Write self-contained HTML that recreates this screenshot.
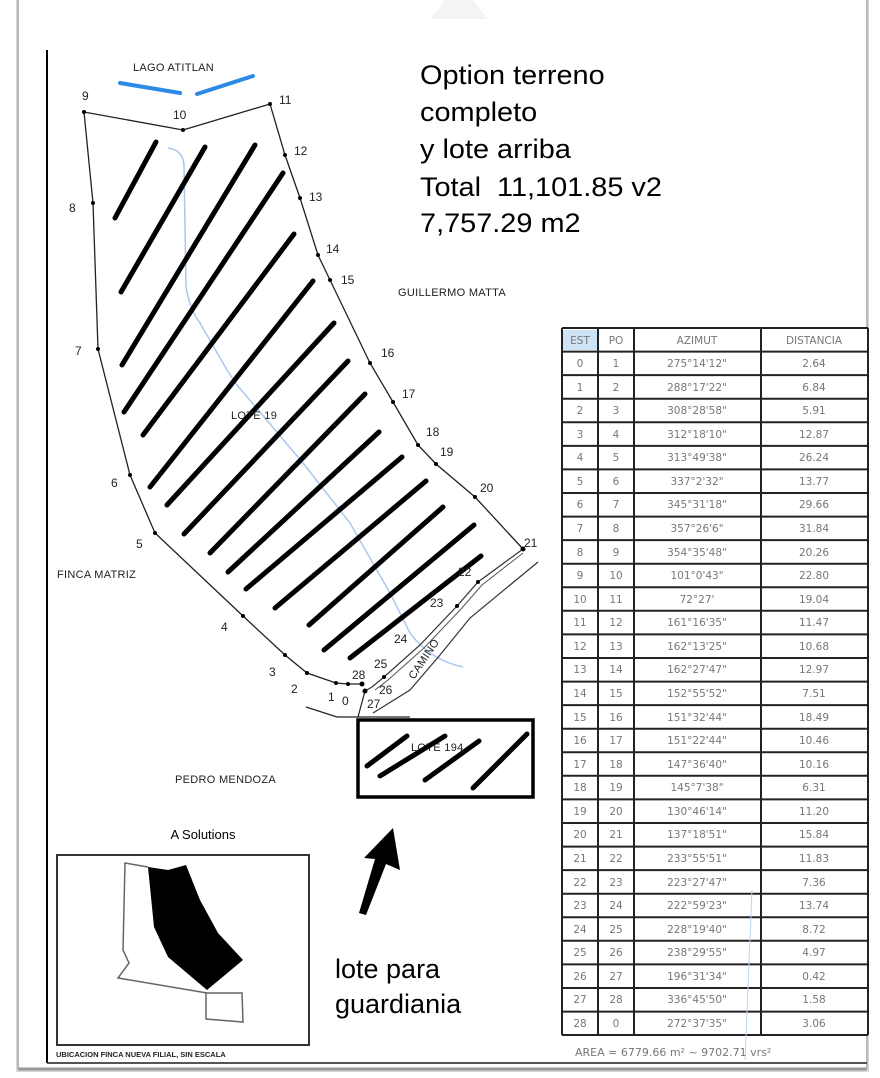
<!DOCTYPE html>
<html><head><meta charset="utf-8"><style>
html,body{margin:0;padding:0;background:#fff;}
svg{display:block;}
.p{font-family:"Liberation Sans",sans-serif;font-size:12px;fill:#222;}
.cad{font-family:"Liberation Sans",sans-serif;font-size:11px;fill:#222;letter-spacing:0.3px;}
.big{font-family:"Liberation Sans",sans-serif;font-size:27px;fill:#000;}
.t{font-family:"DejaVu Sans","Liberation Sans",sans-serif;font-size:10.5px;fill:#777;text-anchor:middle;}
.h{stroke:#000;stroke-width:5;stroke-linecap:round;}
</style></head><body>
<svg width="880" height="1078" viewBox="0 0 880 1078" xmlns="http://www.w3.org/2000/svg">
<rect x="0" y="0" width="880" height="1078" fill="#fff"/>
<rect x="16" y="-5" width="853" height="1077" fill="#d8d8d8"/>
<rect x="18" y="-5" width="849" height="1073" fill="#fff"/>
<line x1="18" y1="-5" x2="18" y2="1068" stroke="#bbb" stroke-width="2"/>
<line x1="867" y1="-5" x2="867" y2="1068" stroke="#bbb" stroke-width="2"/>
<line x1="18" y1="1069" x2="867" y2="1069" stroke="#999" stroke-width="3"/>
<polygon points="445,0 473,0 488,19 430,19" fill="#f4f4f4"/>
<line x1="47" y1="50" x2="47" y2="1063" stroke="#000" stroke-width="2"/>
<line x1="47" y1="1063" x2="867" y2="1063" stroke="#555" stroke-width="2"/>

<path d="M168,148 Q183,150 184,165 L186,287 Q190,310 200,323 L227,370 L237,385 L303,463 L350,523 L390,593 L410,633 Q430,660 463,667" fill="none" stroke="#a8c8f0" stroke-width="1.5"/>

<polyline points="93,203 84,112 183,130 270,104 285,155 300,198 318,255 330,280 370,363 393,402 418,445 436,464 475,497 523,549" fill="none" stroke="#222" stroke-width="1.3"/>
<polyline points="93,203 98,349 130,475 155,533 243,616 285,655 307,673 336,683 348,684 362,684" fill="none" stroke="#222" stroke-width="1.3"/>
<polyline points="523,549 478,582 457,606 420,645 384,677 372,687 365,691" fill="none" stroke="#333" stroke-width="1.2"/>
<polyline points="523,553 482,585 461,609 424,648 388,680 375,690" fill="none" stroke="#555" stroke-width="1"/>
<polyline points="538,562 470,618 440,655 410,690 373,713" fill="none" stroke="#333" stroke-width="1.2"/>
<polyline points="365,691 358,717" fill="none" stroke="#222" stroke-width="1.2"/>
<polyline points="306,707 337,717 410,717" fill="none" stroke="#222" stroke-width="1.2"/>
<g fill="#000">
<circle cx="84" cy="112" r="2"/><circle cx="183" cy="130" r="2"/><circle cx="270" cy="104" r="2"/><circle cx="285" cy="155" r="2"/><circle cx="300" cy="198" r="2"/><circle cx="318" cy="255" r="2"/><circle cx="330" cy="280" r="2"/><circle cx="370" cy="363" r="2"/><circle cx="393" cy="402" r="2"/><circle cx="418" cy="445" r="2"/><circle cx="436" cy="464" r="2"/><circle cx="475" cy="497" r="2"/><circle cx="523" cy="549" r="2.5"/><circle cx="478" cy="582" r="2"/><circle cx="457" cy="606" r="2"/><circle cx="384" cy="677" r="2"/><circle cx="362" cy="684" r="2.5"/><circle cx="365" cy="691" r="2.5"/><circle cx="348" cy="684" r="2"/><circle cx="336" cy="683" r="2"/><circle cx="307" cy="673" r="2"/><circle cx="285" cy="655" r="2"/><circle cx="243" cy="616" r="2"/><circle cx="155" cy="533" r="2"/><circle cx="130" cy="475" r="2"/><circle cx="98" cy="349" r="2"/><circle cx="93" cy="203" r="2"/>
</g>
<g class="h">
<line x1="115" y1="218" x2="156" y2="142"/>
<line x1="121" y1="292" x2="205" y2="147"/>
<line x1="122" y1="365" x2="255" y2="145"/>
<line x1="124" y1="412" x2="283" y2="173"/>
<line x1="143" y1="435" x2="294" y2="234"/>
<line x1="150" y1="487" x2="313" y2="281"/>
<line x1="167" y1="505" x2="334" y2="323"/>
<line x1="184" y1="534" x2="348" y2="361"/>
<line x1="210" y1="553" x2="365" y2="394"/>
<line x1="228" y1="572" x2="379" y2="432"/>
<line x1="246" y1="589" x2="402" y2="457"/>
<line x1="275" y1="608" x2="426" y2="481"/>
<line x1="309" y1="625" x2="443" y2="507"/>
<line x1="324" y1="650" x2="474" y2="525"/>
<line x1="350" y1="658" x2="481" y2="556"/>
</g>
<rect x="358" y="720" width="175" height="77" fill="none" stroke="#000" stroke-width="3.5"/>
<text class="cad" x="411" y="751" font-size="12">LOTE 194</text>
<g class="h">
<line x1="367" y1="766" x2="407" y2="736"/>
<line x1="380" y1="776" x2="445" y2="736"/>
<line x1="425" y1="780" x2="479" y2="741"/>
<line x1="473" y1="788" x2="527" y2="734"/>
</g>

<line x1="120" y1="83" x2="180" y2="93" stroke="#2b8ae6" stroke-width="4" stroke-linecap="round"/>
<line x1="197" y1="94" x2="253" y2="76" stroke="#2b8ae6" stroke-width="4" stroke-linecap="round"/>
<text class="cad" x="133" y="71">LAGO ATITLAN</text>
<text class="cad" x="398" y="296">GUILLERMO MATTA</text>
<text class="cad" x="57" y="578">FINCA MATRIZ</text>
<text class="cad" x="175" y="783">PEDRO MENDOZA</text>
<text class="cad" x="231" y="419" font-size="12">LOTE 19</text>
<text class="cad" x="0" y="0" transform="translate(414,680) rotate(-56)">CAMINO</text>

<g class="p">
<text x="82" y="100">9</text><text x="173" y="119">10</text><text x="279" y="104">11</text><text x="294" y="155">12</text><text x="309" y="201">13</text><text x="326" y="253">14</text><text x="341" y="284">15</text><text x="381" y="357">16</text><text x="402" y="398">17</text><text x="426" y="436">18</text><text x="440" y="456">19</text><text x="480" y="492">20</text><text x="524" y="547">21</text><text x="458" y="576">22</text><text x="430" y="607">23</text><text x="394" y="643">24</text><text x="374" y="668">25</text><text x="379" y="694">26</text><text x="367" y="708">27</text><text x="352" y="679">28</text><text x="342" y="705">0</text><text x="328" y="701">1</text><text x="291" y="693">2</text><text x="269" y="676">3</text><text x="221" y="631">4</text><text x="136" y="548">5</text><text x="111" y="487">6</text><text x="75" y="355">7</text><text x="69" y="212">8</text>
</g>

<g class="big" transform="translate(420,0) scale(1.07,1)">
<text x="0" y="84">Option terreno</text>
<text x="0" y="121">completo</text>
<text x="0" y="158">y lote arriba</text>
<text x="0" y="196">Total &#160;11,101.85 v2</text>
<text x="0" y="232">7,757.29 m2</text>
</g>
<g class="big">
<text x="335" y="978">lote para</text>
<text x="335" y="1013">guardiania</text>
</g>
<path d="M393,828 L400,870 L386,864 L366,915 L359,913 L375,859 L364,858 Z" fill="#000"/>

<text x="203" y="839" font-family="Liberation Sans,sans-serif" font-size="13" text-anchor="middle" fill="#000">A Solutions</text>
<rect x="57" y="855" width="252" height="190" fill="#fff" stroke="#333" stroke-width="2"/>
<polyline points="148,867 125,863 123,950 129,963 118,978 207,993" fill="none" stroke="#666" stroke-width="1.5"/>
<polygon points="148,867 168,870 186,865 200,900 218,933 243,960 207,990 168,957 154,927" fill="#000"/>
<polygon points="206,993 242,993 243,1022 206,1019" fill="none" stroke="#666" stroke-width="1.5"/>
<text x="56" y="1057" font-family="Liberation Sans,sans-serif" font-size="7.5" font-weight="bold" fill="#222">UBICACION FINCA NUEVA FILIAL, SIN ESCALA</text>

<rect x="562" y="328" width="306" height="707" fill="#fff"/>
<rect x="563" y="330" width="34" height="20" fill="#cfe3f7"/>
<g stroke="#222" stroke-width="2">
<line x1="562" y1="328" x2="562" y2="1035"/><line x1="598" y1="328" x2="598" y2="1035"/><line x1="634" y1="328" x2="634" y2="1035"/><line x1="761" y1="328" x2="761" y2="1035"/><line x1="868" y1="328" x2="868" y2="1035"/>
<line x1="562" y1="328" x2="868" y2="328"/><line x1="562" y1="351.6" x2="868" y2="351.6"/><line x1="562" y1="375.1" x2="868" y2="375.1"/><line x1="562" y1="398.7" x2="868" y2="398.7"/><line x1="562" y1="422.3" x2="868" y2="422.3"/><line x1="562" y1="445.9" x2="868" y2="445.9"/><line x1="562" y1="469.4" x2="868" y2="469.4"/><line x1="562" y1="493" x2="868" y2="493"/><line x1="562" y1="516.6" x2="868" y2="516.6"/><line x1="562" y1="540.1" x2="868" y2="540.1"/><line x1="562" y1="563.7" x2="868" y2="563.7"/><line x1="562" y1="587.3" x2="868" y2="587.3"/><line x1="562" y1="610.8" x2="868" y2="610.8"/><line x1="562" y1="634.4" x2="868" y2="634.4"/><line x1="562" y1="658" x2="868" y2="658"/><line x1="562" y1="681.6" x2="868" y2="681.6"/><line x1="562" y1="705.1" x2="868" y2="705.1"/><line x1="562" y1="728.7" x2="868" y2="728.7"/><line x1="562" y1="752.3" x2="868" y2="752.3"/><line x1="562" y1="775.8" x2="868" y2="775.8"/><line x1="562" y1="799.4" x2="868" y2="799.4"/><line x1="562" y1="823" x2="868" y2="823"/><line x1="562" y1="846.6" x2="868" y2="846.6"/><line x1="562" y1="870.1" x2="868" y2="870.1"/><line x1="562" y1="893.7" x2="868" y2="893.7"/><line x1="562" y1="917.3" x2="868" y2="917.3"/><line x1="562" y1="940.8" x2="868" y2="940.8"/><line x1="562" y1="964.4" x2="868" y2="964.4"/><line x1="562" y1="988" x2="868" y2="988"/><line x1="562" y1="1011.6" x2="868" y2="1011.6"/><line x1="562" y1="1035" x2="868" y2="1035"/>
</g>
<line x1="752" y1="890" x2="745" y2="1060" stroke="#bcd6f2" stroke-width="1"/>
<g class="t">
<text x="580" y="344">EST</text><text x="616" y="344">PO</text><text x="697" y="344">AZIMUT</text><text x="814" y="344">DISTANCIA</text>
<text x="580" y="367">0</text><text x="616" y="367">1</text><text x="697" y="367">275°14'12"</text><text x="814" y="367">2.64</text>
<text x="580" y="391">1</text><text x="616" y="391">2</text><text x="697" y="391">288°17'22"</text><text x="814" y="391">6.84</text>
<text x="580" y="414">2</text><text x="616" y="414">3</text><text x="697" y="414">308°28'58"</text><text x="814" y="414">5.91</text>
<text x="580" y="438">3</text><text x="616" y="438">4</text><text x="697" y="438">312°18'10"</text><text x="814" y="438">12.87</text>
<text x="580" y="461">4</text><text x="616" y="461">5</text><text x="697" y="461">313°49'38"</text><text x="814" y="461">26.24</text>
<text x="580" y="485">5</text><text x="616" y="485">6</text><text x="697" y="485">337°2'32"</text><text x="814" y="485">13.77</text>
<text x="580" y="508">6</text><text x="616" y="508">7</text><text x="697" y="508">345°31'18"</text><text x="814" y="508">29.66</text>
<text x="580" y="532">7</text><text x="616" y="532">8</text><text x="697" y="532">357°26'6"</text><text x="814" y="532">31.84</text>
<text x="580" y="556">8</text><text x="616" y="556">9</text><text x="697" y="556">354°35'48"</text><text x="814" y="556">20.26</text>
<text x="580" y="579">9</text><text x="616" y="579">10</text><text x="697" y="579">101°0'43"</text><text x="814" y="579">22.80</text>
<text x="580" y="603">10</text><text x="616" y="603">11</text><text x="697" y="603">72°27'</text><text x="814" y="603">19.04</text>
<text x="580" y="626">11</text><text x="616" y="626">12</text><text x="697" y="626">161°16'35"</text><text x="814" y="626">11.47</text>
<text x="580" y="650">12</text><text x="616" y="650">13</text><text x="697" y="650">162°13'25"</text><text x="814" y="650">10.68</text>
<text x="580" y="673">13</text><text x="616" y="673">14</text><text x="697" y="673">162°27'47"</text><text x="814" y="673">12.97</text>
<text x="580" y="697">14</text><text x="616" y="697">15</text><text x="697" y="697">152°55'52"</text><text x="814" y="697">7.51</text>
<text x="580" y="721">15</text><text x="616" y="721">16</text><text x="697" y="721">151°32'44"</text><text x="814" y="721">18.49</text>
<text x="580" y="744">16</text><text x="616" y="744">17</text><text x="697" y="744">151°22'44"</text><text x="814" y="744">10.46</text>
<text x="580" y="768">17</text><text x="616" y="768">18</text><text x="697" y="768">147°36'40"</text><text x="814" y="768">10.16</text>
<text x="580" y="791">18</text><text x="616" y="791">19</text><text x="697" y="791">145°7'38"</text><text x="814" y="791">6.31</text>
<text x="580" y="815">19</text><text x="616" y="815">20</text><text x="697" y="815">130°46'14"</text><text x="814" y="815">11.20</text>
<text x="580" y="838">20</text><text x="616" y="838">21</text><text x="697" y="838">137°18'51"</text><text x="814" y="838">15.84</text>
<text x="580" y="862">21</text><text x="616" y="862">22</text><text x="697" y="862">233°55'51"</text><text x="814" y="862">11.83</text>
<text x="580" y="886">22</text><text x="616" y="886">23</text><text x="697" y="886">223°27'47"</text><text x="814" y="886">7.36</text>
<text x="580" y="909">23</text><text x="616" y="909">24</text><text x="697" y="909">222°59'23"</text><text x="814" y="909">13.74</text>
<text x="580" y="933">24</text><text x="616" y="933">25</text><text x="697" y="933">228°19'40"</text><text x="814" y="933">8.72</text>
<text x="580" y="956">25</text><text x="616" y="956">26</text><text x="697" y="956">238°29'55"</text><text x="814" y="956">4.97</text>
<text x="580" y="980">26</text><text x="616" y="980">27</text><text x="697" y="980">196°31'34"</text><text x="814" y="980">0.42</text>
<text x="580" y="1003">27</text><text x="616" y="1003">28</text><text x="697" y="1003">336°45'50"</text><text x="814" y="1003">1.58</text>
<text x="580" y="1027">28</text><text x="616" y="1027">0</text><text x="697" y="1027">272°37'35"</text><text x="814" y="1027">3.06</text>
</g>
<text x="575" y="1056" font-family="DejaVu Sans,Liberation Sans,sans-serif" font-size="11" fill="#777">AREA = 6779.66 m² ~ 9702.71 vrs²</text>
</svg>
</body></html>
